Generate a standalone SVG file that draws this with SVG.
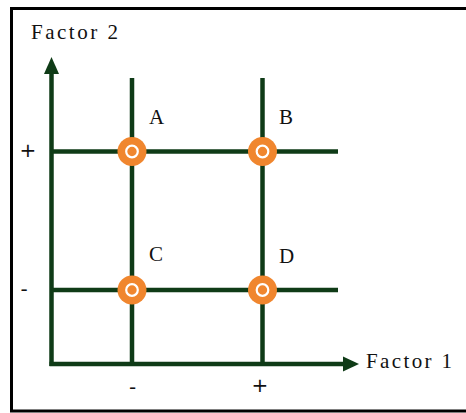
<svg xmlns="http://www.w3.org/2000/svg" width="466" height="413" viewBox="0 0 466 413">
<style>
.t{font-family:"Liberation Serif","DejaVu Serif",serif;font-size:21px;fill:#111}
.s{font-family:"DejaVu Sans","Liberation Sans",sans-serif;font-size:20px;fill:#111}
.g{stroke:#0f3b17;stroke-width:4.5;fill:none}
.dot{fill:#f0862e}
.ring{fill:none;stroke:#fff;stroke-width:2.2}
</style>
<defs>
<g id="pt"><circle r="14.5" class="dot"/><circle r="5.8" class="ring"/></g>
</defs>
<rect x="0" y="0" width="466" height="413" fill="#fff"/>
<rect x="11.5" y="8.5" width="470" height="402.5" fill="none" stroke="#000" stroke-width="3"/>
<g id="connectors">
<line class="g" x1="51.5" y1="72" x2="51.5" y2="366"/>
<line class="g" x1="49.5" y1="364" x2="345" y2="364"/>
<polygon points="51.5,57 44,74 59,74" fill="#0f3b17"/>
<polygon points="359,364 343,356.5 343,371.5" fill="#0f3b17"/>
<line class="g" x1="132" y1="78" x2="132" y2="364"/>
<line class="g" x1="262.5" y1="78" x2="262.5" y2="364"/>
<line class="g" x1="51.5" y1="151.5" x2="338" y2="151.5"/>
<line class="g" x1="51.5" y1="290" x2="338" y2="290"/>
</g>
<g id="A"><use href="#pt" x="132" y="151.5"/><text class="t" x="149" y="124">A</text></g>
<g id="B"><use href="#pt" x="262.5" y="151.5"/><text class="t" x="279" y="124">B</text></g>
<g id="C"><use href="#pt" x="132" y="290"/><text class="t" x="149" y="261">C</text></g>
<g id="D"><use href="#pt" x="262.5" y="290"/><text class="t" x="279" y="263">D</text></g>
<g id="labels">
<text class="t" x="31" y="39" textLength="87" lengthAdjust="spacing">Factor 2</text>
<text class="t" x="366" y="368" textLength="86" lengthAdjust="spacing">Factor 1</text>
<text class="s" x="28" y="157" text-anchor="middle">+</text>
<text class="s" x="24" y="296" text-anchor="middle">-</text>
<text class="s" x="132.5" y="394" text-anchor="middle">-</text>
<text class="s" x="260" y="392" text-anchor="middle">+</text>
</g>
</svg>
